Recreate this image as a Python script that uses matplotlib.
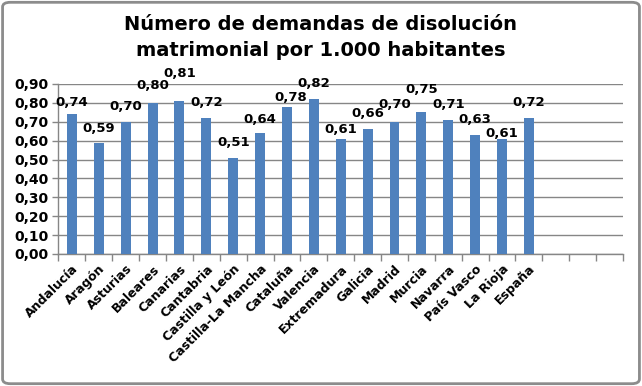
import matplotlib.pyplot as plt
import numpy as np
from matplotlib.patches import FancyBboxPatch

regiones = ['Andalucía', 'Aragón', 'Asturias', 'Baleares', 'Canarias', 'Cantabria',
            'Castilla y León', 'Castilla-La Mancha', 'Cataluña', 'Valencia', 'Extremadura',
            'Galicia', 'Madrid', 'Murcia', 'Navarra', 'País Vasco', 'La Rioja', 'España']
valores = [0.74, 0.59, 0.70, 0.80, 0.81, 0.72, 0.51, 0.64, 0.78, 0.82, 0.61,
           0.66, 0.70, 0.75, 0.71, 0.63, 0.61, 0.72]
huecos = 3  # empty slots at the right end of the axis

# label offsets (pixels) as placed in the original
desp_x = [0, 0, 0, 0, 0, 0, 0, 0, 4, 0, 0, 0, 0, 0, 0, 0, 0, 0]
desp_y = [12, 14, 15, 17, 27, 15, 15, 14, 9, 16, 9, 16, 17, 23, 15, 15, 5, 15]

azul = '#4F81BD'
gris = '#868686'

fig = plt.figure(figsize=(6.42, 3.86), dpi=100)
ax = fig.add_axes([0.0911, 0.342, 0.8793, 0.4404])

x = np.arange(len(regiones))
ax.bar(x, valores, width=0.37, color=azul, zorder=3)

for xi, v, dx, dy in zip(x, valores, desp_x, desp_y):
    ax.annotate(f'{v:.2f}'.replace('.', ','), (xi, v), xytext=(dx, dy),
                textcoords='offset pixels', ha='center', va='center',
                fontsize=9.5, fontweight='bold', zorder=4)

n = len(regiones) + huecos
ax.set_xlim(-0.5, n - 0.5)
ax.set_ylim(0, 0.9)
ax.set_yticks(np.arange(0, 0.91, 0.1))
ax.set_yticklabels([f'{t:.2f}'.replace('.', ',') for t in np.arange(0, 0.91, 0.1)],
                   fontsize=10, fontweight='bold')
ax.set_xticks(x)
ax.set_xticklabels(regiones, rotation=45, ha='right', rotation_mode='anchor',
                   fontsize=9, fontweight='bold')
ax.set_xticks(np.arange(-0.5, n, 1), minor=True)
ax.tick_params(axis='x', which='major', length=0, pad=6)
ax.tick_params(axis='x', which='minor', length=5, color=gris, width=1)
ax.tick_params(axis='y', length=4, color=gris, width=1, pad=3)

ax.yaxis.grid(True, color=gris, linewidth=1, zorder=0)
ax.set_axisbelow(True)
for s in ['top', 'right']:
    ax.spines[s].set_visible(False)
for s in ['left', 'bottom']:
    ax.spines[s].set_color(gris)
    ax.spines[s].set_linewidth(1)

fig.text(0.5, 0.903, 'Número de demandas de disolución\nmatrimonial por 1.000 habitantes',
         ha='center', va='center', fontsize=14, fontweight='bold', linespacing=1.42)

borde = FancyBboxPatch((0.004, 0.006), 0.992, 0.988,
                       boxstyle='round,pad=0,rounding_size=0.012',
                       transform=fig.transFigure, fill=False,
                       edgecolor='#8c8c8c', linewidth=2)
fig.patches.append(borde)

fig.savefig('out.png', dpi=100)
